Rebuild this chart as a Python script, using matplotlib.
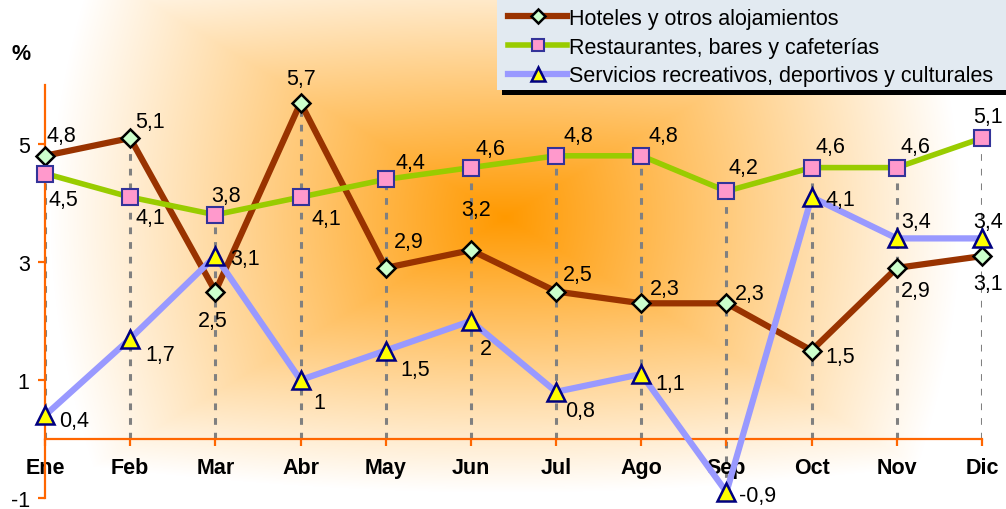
import numpy as np
import matplotlib
matplotlib.use("Agg")
import matplotlib.pyplot as plt
from matplotlib.patches import Rectangle

plt.rcParams['font.family'] = ['Liberation Sans', 'DejaVu Sans']

months = ["Ene", "Feb", "Mar", "Abr", "May", "Jun", "Jul", "Ago", "Sep", "Oct", "Nov", "Dic"]
hoteles = [4.8, 5.1, 2.5, 5.7, 2.9, 3.2, 2.5, 2.3, 2.3, 1.5, 2.9, 3.1]
restaurantes = [4.5, 4.1, 3.8, 4.1, 4.4, 4.6, 4.8, 4.8, 4.2, 4.6, 4.6, 5.1]
servicios = [0.4, 1.7, 3.1, 1.0, 1.5, 2.0, 0.8, 1.1, -0.9, 4.1, 3.4, 3.4]
series_names = ["Hoteles y otros alojamientos",
                "Restaurantes, bares y cafeterías",
                "Servicios recreativos, deportivos y culturales"]
yticks = [-1, 1, 3, 5]

# label offsets in pixels (style only)
off_h = [(16, 20), (20, 17), (-3, -29), (1, 24), (23, 26), (5, 41), (22, 17), (23, 15),
         (23, 10), (29, -6), (19, -23), (6, -27)]
off_r = [(18, -26), (20, -20), (11, 19), (26, -21), (25, 17), (20, 19), (22, 20), (22, 20),
         (17, 24), (19, 21), (19, 21), (6, 22)]
off_s = [(29, -5), (30, -16), (30, -2), (19, -23), (29, -19), (15, -28), (24, -19), (29, -9),
         (31, -3), (29, -2), (19, 17), (6, 17)]

FS = 15.5
W, H = 1006, 510
fig = plt.figure(figsize=(W / 100, H / 100), dpi=100)

# background gradient
bg = fig.add_axes([0, 0, 1, 1], zorder=-10)
yy, xx = np.mgrid[0:H, 0:W]
cx, cy = 505, 218
dx = np.abs(xx - cx) / 455.0
dy = np.abs(yy - cy) / 275.0
t_rect = np.maximum(dx, dy)
t_ell = np.sqrt(dx ** 2 + dy ** 2)
t = np.clip(0.75 * t_rect + 0.25 * t_ell, 0, 1)
inten = (1 - t) ** 1.0
orange = np.array([1.0, 0.60, 0.0])
white = np.array([1.0, 1.0, 1.0])
img = white[None, None, :] * (1 - inten[..., None]) + orange[None, None, :] * inten[..., None]
bg.imshow(img, aspect='auto', extent=[0, W, H, 0])
bg.set_axis_off()

# main axes
ax_left = 45 / W
ax_right = 982 / W
ax_bottom = (H - 499) / H
ax_top = (H - 86) / H
ax = fig.add_axes([ax_left, ax_bottom, ax_right - ax_left, ax_top - ax_bottom])
ax.set_facecolor('none')
x = np.arange(len(months))
ax.set_xlim(0, len(months) - 1)
ax.set_ylim(-1, 6)

# drop lines
allv = np.array([hoteles, restaurantes, servicios])
lo = np.minimum(allv.min(axis=0), 0)
hi = allv.max(axis=0)
ax.vlines(x, lo, hi, colors='#808080', linestyles=(0, (2.2, 2.6)), linewidth=2.2, zorder=1)

styles = [
    dict(color='#993300', lw=4.5, marker='D', ms=9.5, mfc='#CCFFCC', mec='black', mew=1.8),
    dict(color='#99CC00', lw=4.0, marker='s', ms=11, mfc='#FF99CC', mec='#333399', mew=1.5),
    dict(color='#9999FF', lw=4.5, marker='^', ms=12.5, mfc='#FFFF00', mec='#000080', mew=1.8),
]
datas = [hoteles, restaurantes, servicios]
offs = [off_h, off_r, off_s]
handles = []
for i, (d, st, of) in enumerate(zip(datas, styles, offs)):
    ln, = ax.plot(x, d, zorder=3 + i, solid_joinstyle='miter', clip_on=False, **st)
    handles.append(ln)
    for xi, v, (ox, oy) in zip(x, d, of):
        lab = ("%g" % v).replace('.', ',')
        ax.annotate(lab, (xi, v), xytext=(ox, oy), textcoords='offset pixels',
                    ha='center', va='center', fontsize=FS, color='black', zorder=10)

for s in ['top', 'right']:
    ax.spines[s].set_visible(False)
ax.spines['left'].set_color('#FF6600')
ax.spines['left'].set_linewidth(1.6)
ax.spines['bottom'].set_color('#FF6600')
ax.spines['bottom'].set_linewidth(1.6)
ax.spines['bottom'].set_position(('data', 0))
ax.spines['bottom'].set_zorder(2)

ax.set_xticks(x)
ax.set_xticklabels(months, fontsize=FS, fontweight='bold')
ax.set_yticks(yticks)
ax.set_yticklabels([str(v) for v in yticks], fontsize=FS)
ax.tick_params(axis='x', direction='out', length=5, width=1.6, color='#FF6600', pad=8)
ax.tick_params(axis='y', direction='out', length=5, width=1.6, color='#FF6600', pad=6)

fig.text(21 / W, 1 - 55 / H, '%', fontsize=FS, fontweight='bold', ha='center', va='center')

# legend box
fig.patches.append(Rectangle((502 / W, 1 - 96 / H), (W - 502) / W, 6 / H,
                             transform=fig.transFigure, facecolor='black', edgecolor='none', zorder=20))
fig.patches.append(Rectangle((497 / W, 1 - 91 / H), (W - 497) / W, 91 / H,
                             transform=fig.transFigure, facecolor='#E2EAF1', edgecolor='none', zorder=21))
leg = fig.legend(handles, series_names, loc='upper left', bbox_to_anchor=(508 / W, 1 - 9 / H),
                 frameon=False, fontsize=FS, handlelength=2.75, handletextpad=0.1,
                 labelspacing=0.35, borderaxespad=0, borderpad=0.0, markerscale=0.75)
leg.set_zorder(22)

fig.savefig('out.png', dpi=100)
